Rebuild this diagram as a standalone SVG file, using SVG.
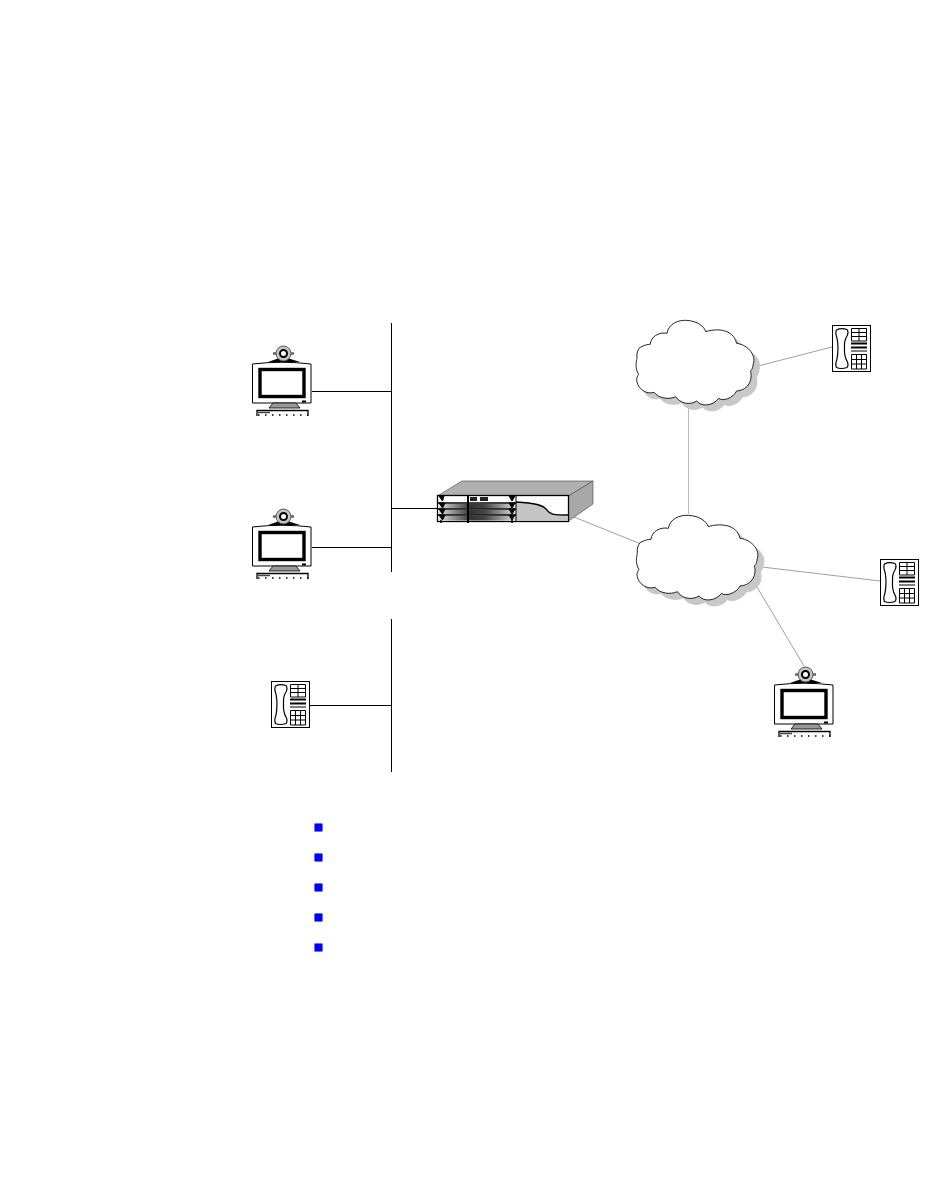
<svg xmlns="http://www.w3.org/2000/svg" width="950" height="1180" viewBox="0 0 950 1180">
<style>
.wire{stroke:#000;stroke-width:1;fill:none}
.thin{stroke:#888;stroke-width:.8;fill:none}
.pale{stroke:#bbb;stroke-width:1;fill:none}
.o{stroke:#000;stroke-width:1;fill:#fff}
.k{fill:#000}
.bullet{fill:#0000ff;stroke:#6a6aff;stroke-width:1}
</style>
<defs>
<linearGradient id="slot" x1="0" x2="1" y1="0" y2="0">
<stop offset="0" stop-color="#e8e8e8"/><stop offset=".42" stop-color="#333"/><stop offset=".6" stop-color="#444"/><stop offset="1" stop-color="#e0e0e0"/>
</linearGradient>
<path id="cloudShape" transform="scale(.33333)" d="M45,98C60,90 70,88 78,88C80,65 105,50 130,55C135,25 165,15 190,16C225,18 245,35 250,50C280,40 335,40 345,85C385,90 405,125 397,145C395,160 392,165 388,168C395,190 385,225 345,228C335,250 300,260 290,250C270,275 235,275 222,258C200,272 170,265 157,245C135,255 105,250 90,232C65,240 40,220 37,200C33,190 40,182 42,178C30,160 35,140 37,130C35,115 40,105 45,98Z"/>
<g id="cloud">
<use href="#cloudShape" x="6" y="6" fill="#c8c8c8" stroke="#c8c8c8" stroke-width="3"/>
<use href="#cloudShape" fill="#fff" stroke="#222" stroke-width="3"/>
</g>
<g id="monitor">
<path class="k" d="M268,362L278,358.500H289L300,362Z"/>
<path d="M273,353.500H294" stroke="#666" stroke-width="2.500"/>
<circle cx="283.500" cy="353.500" r="7.500" fill="#c4c4c4" stroke="#555" stroke-width="1"/>
<circle cx="283.500" cy="353.500" r="3.500" fill="#fff" stroke="#000" stroke-width="2"/>
<path class="o" d="M252.500,364Q282,360.500 311,364V403H252.500Z" stroke-width="1.200"/>
<rect x="260" y="369.500" width="44" height="27" fill="#fff" stroke="#000" stroke-width="3.400"/>
<rect x="302" y="400.500" width="4" height="2" class="k"/>
<path d="M273,403H296L300,408H269Z" fill="#999" stroke="#000" stroke-width=".8"/>
<path d="M257,416V410.500H308V416" fill="none" stroke="#000" stroke-width="1.300"/>
<path d="M258,412.500H270" stroke="#444" stroke-width="1.500"/>
<path d="M258,415H308" stroke="#000" stroke-width="1.600" stroke-dasharray="1.500 5.500"/>
</g>
<g id="phone">
<rect class="o" x="271.500" y="681.500" width="38" height="46"/>
<path d="M275.500,686Q280,683.500 286,685.500Q288,688 286,692Q283,696 283.500,704Q283,712 286,717Q288,721 286,723.500Q280,725.500 275.500,723.500Q274,720 276,715Q278,704 276,694Q274,689 275.500,686Z" fill="#fff" stroke="#000" stroke-width="1.200"/>
<path class="wire" d="M290.500,684.500H305.500V697H290.500ZM290.500,688.500H305.500M290.500,692.500H305.500M298,684.500V697"/>
<path d="M290,699.500H306M290,703.500H306" stroke="#000" stroke-width="1.800"/>
<path d="M290,707H306" stroke="#000" stroke-width="1"/>
<path class="wire" d="M290.500,710.500H305.500V725H290.500ZM290.500,715.500H305.500M290.500,720H305.500M295.500,710.500V725M300.500,710.500V725"/>
</g>
</defs>

<g id="connectors">
<path class="wire" d="M391.500,323V572M391.500,619V772"/>
<path class="wire" d="M312,391.500H391M312,547.500H391M310,705.500H391M391,508.500H437"/>
<path class="thin" d="M569,515L641,544M758,366L832,347M762,567L880,581M757,587L804,666"/>
<path class="pale" d="M688.500,406V514"/>
</g>

<g id="cloud-upper"><use href="#cloud" transform="translate(625,315) scale(.97,1)"/></g>
<g id="cloud-lower"><use href="#cloud" transform="translate(625,510)"/></g>

<g id="monitor-1"><use href="#monitor"/></g>
<g id="monitor-2"><use href="#monitor" y="163"/></g>
<g id="monitor-3"><use href="#monitor" x="522" y="321"/></g>

<g id="phone-1"><use href="#phone"/></g>
<g id="phone-2"><use href="#phone" x="561" y="-356"/></g>
<g id="phone-3"><use href="#phone" x="609" y="-122"/></g>

<g id="router">
<path d="M437.500,496L462,481H593L568.500,496Z" fill="#b0b0b0" stroke="#444" stroke-width=".6"/>
<path d="M568.500,496L593,481V504L568.500,521Z" fill="#a8a8a8" stroke="#444" stroke-width=".6"/>
<rect x="437.500" y="495.500" width="131" height="26" fill="#fff" stroke="#000" stroke-width="1.300"/>
<path d="M516,502C535,503 543,505 547,510C550,515 555,515 568,515V521H516Z" fill="#c4c4c4"/>
<path d="M516,502C535,503 543,505 547,510C550,515 555,515 568,515" fill="none" stroke="#000" stroke-width="1.300"/>
<rect x="438" y="504" width="78" height="4.500" fill="url(#slot)"/>
<rect x="438" y="510" width="78" height="4.500" fill="url(#slot)"/>
<rect x="438" y="516" width="78" height="4.500" fill="url(#slot)"/>
<path d="M438,503H516M438,509H516M438,515H516" stroke="#000" stroke-width="1.500"/>
<path d="M468,495V523" stroke="#000" stroke-width="2"/>
<path d="M516,496V522" stroke="#000" stroke-width="1"/>
<path d="M439,496L444,496L442.500,501ZM509,496L515,496L512,501ZM439,503L445,503L442.500,508ZM509,503L515,503L512,508ZM439,509L445,509L442.500,514ZM509,509L515,509L512,514ZM439,515L445,515L442.500,520ZM509,515L515,515L512,520Z" fill="#000" stroke="#000" stroke-width="1"/>
<path d="M441,520V523M512,520V523" stroke="#000" stroke-width="1.500"/>
<rect x="470" y="497" width="7" height="4" fill="#222"/>
<rect x="480" y="497" width="8" height="4" fill="#222"/>
</g>

<g id="bullets">
<rect class="bullet" x="314.500" y="823.500" width="8" height="8" rx="1"/>
<rect class="bullet" x="314.500" y="853.500" width="8" height="8" rx="1"/>
<rect class="bullet" x="314.500" y="883.500" width="8" height="8" rx="1"/>
<rect class="bullet" x="314.500" y="913.500" width="8" height="8" rx="1"/>
<rect class="bullet" x="314.500" y="943.500" width="8" height="8" rx="1"/>
</g>
</svg>
